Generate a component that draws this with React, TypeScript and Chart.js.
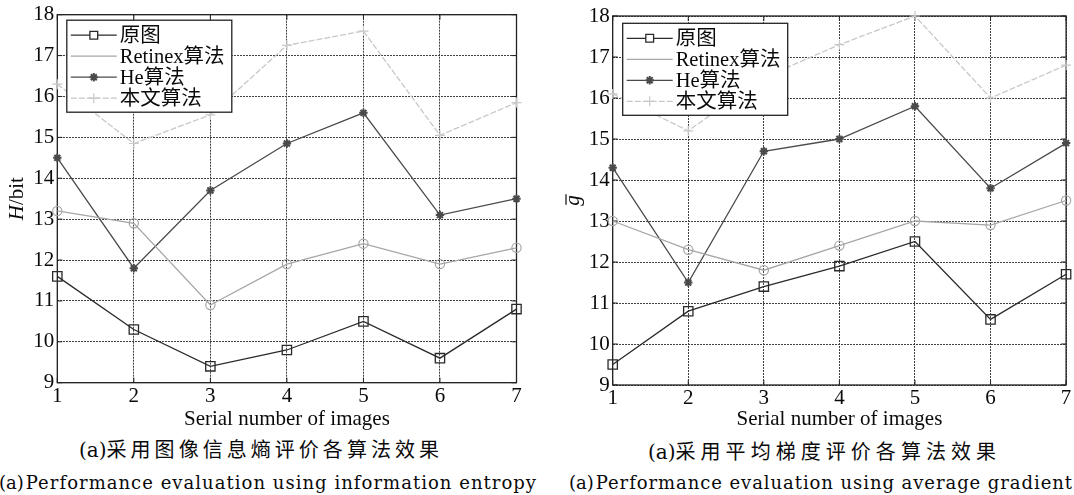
import React, { useEffect, useLayoutEffect, useRef } from "react";
import { Chart, registerables } from "chart.js";

Chart.register(...registerables);

// ---------- data ----------
const IMAGE_NUMBERS = ["1", "2", "3", "4", "5", "6", "7"];
const SERIES_NAMES = ["原图", "Retinex算法", "He算法", "本文算法"];
const Y_MIN = 9;
const Y_MAX = 18;
const Y_STEP = 1;

const ENTROPY_ORIGINAL = [11.6, 10.3, 9.4, 9.8, 10.5, 9.6, 10.8];
const ENTROPY_RETINEX = [13.2, 12.9, 10.9, 11.9, 12.4, 11.9, 12.3];
const ENTROPY_HE = [14.5, 11.8, 13.7, 14.85, 15.6, 13.1, 13.5];
const ENTROPY_OURS = [16.3, 14.85, 15.55, 17.25, 17.6, 15.05, 15.85];

const GRADIENT_ORIGINAL = [9.5, 10.8, 11.4, 11.9, 12.5, 10.6, 11.7];
const GRADIENT_RETINEX = [13.0, 12.3, 11.8, 12.4, 13.0, 12.9, 13.5];
const GRADIENT_HE = [14.3, 11.5, 14.7, 15.0, 15.8, 13.8, 14.9];
const GRADIENT_OURS = [16.1, 15.2, 16.5, 17.3, 18.0, 16.0, 16.8];

const X_TITLE = "Serial number of images";
const CAPTION_PREFIX = "(a)";
const CAPTION_CN_LEFT = "采用图像信息熵评价各算法效果";
const CAPTION_EN_LEFT = "Performance evaluation using information entropy";
const CAPTION_CN_RIGHT = "采用平均梯度评价各算法效果";
const CAPTION_EN_RIGHT = "Performance evaluation using average gradient";

// ---------- styles ----------
const SERIF = '"Liberation Serif", "Times New Roman", "Noto Sans CJK SC", serif';
const TEXT = "#0a0a0a";
const GRID = "#404040";
const AXIS_FONT = 21;

const SERIES_STYLES = [
  { color: "#2a2a2a", point: "rect", radius: 6.6, width: 1.3, dash: [] as number[], pw: 1.3, legendMarker: true },
  { color: "#a6a6a6", point: "circle", radius: 4.6, width: 1.3, dash: [] as number[], pw: 1.2, legendMarker: false },
  { color: "#4a4a4a", point: "star", radius: 4.2, width: 1.3, dash: [] as number[], pw: 2, legendMarker: true },
  { color: "#c8c8c8", point: "cross", radius: 5, width: 1.3, dash: [6, 2], pw: 1.2, legendMarker: true },
];

function drawMarker(ctx: CanvasRenderingContext2D, kind: string, x: number, y: number, r: number, color: string, w: number) {
  ctx.save();
  ctx.setLineDash([]);
  ctx.strokeStyle = color;
  ctx.lineWidth = w;
  ctx.beginPath();
  if (kind === "rect") {
    const s = r * Math.SQRT1_2;
    ctx.rect(x - s, y - s, 2 * s, 2 * s);
    ctx.fillStyle = "#fff";
    ctx.fill();
  } else if (kind === "circle") {
    ctx.arc(x, y, r, 0, Math.PI * 2);
  } else if (kind === "star") {
    for (let k = 0; k < 4; k++) {
      const a = (k * Math.PI) / 4;
      ctx.moveTo(x - Math.cos(a) * r, y - Math.sin(a) * r);
      ctx.lineTo(x + Math.cos(a) * r, y + Math.sin(a) * r);
    }
  } else if (kind === "cross") {
    ctx.moveTo(x - r, y);
    ctx.lineTo(x + r, y);
    ctx.moveTo(x, y - r);
    ctx.lineTo(x, y + r);
  }
  ctx.stroke();
  ctx.restore();
}

type PanelProps = {
  left: number;
  width: number;
  height: number;
  padTop: number;
  padRight: number;
  yAxisW: number;
  xAxisH: number;
  series: number[][];
  yTitle: "entropy" | "gradient";
  yTitleX: number;
  legendDx: number;
  legendDy: number;
};

function Panel(p: PanelProps) {
  const ref = useRef<HTMLCanvasElement>(null);
  useEffect(() => {
    const canvas = ref.current!;
    const framePlugin = {
      id: "frame",
      beforeDatasetsDraw(chart: any) {
        const { ctx, chartArea: a, scales } = chart;
        ctx.save();
        ctx.strokeStyle = "#222";
        ctx.lineWidth = 1.3;
        ctx.setLineDash([]);
        ctx.strokeRect(a.left, a.top, a.right - a.left, a.bottom - a.top);
        ctx.lineWidth = 1;
        ctx.beginPath();
        scales.y.ticks.forEach((t: any) => {
          const y = scales.y.getPixelForValue(t.value);
          ctx.moveTo(a.left, y);
          ctx.lineTo(a.left + 5, y);
          ctx.moveTo(a.right, y);
          ctx.lineTo(a.right - 5, y);
        });
        scales.x.ticks.forEach((_t: any, i: number) => {
          const x = scales.x.getPixelForTick(i);
          ctx.moveTo(x, a.bottom);
          ctx.lineTo(x, a.bottom - 5);
          ctx.moveTo(x, a.top);
          ctx.lineTo(x, a.top + 5);
        });
        ctx.stroke();
        ctx.restore();
      },
      afterDraw(chart: any) {
        const { ctx, chartArea: a } = chart;
        // legend
        const bx = a.left + p.legendDx;
        const by = a.top + p.legendDy;
        const bw = 165;
        const bh = 92;
        ctx.save();
        ctx.fillStyle = "#fff";
        ctx.fillRect(bx, by, bw, bh);
        ctx.strokeStyle = "#222";
        ctx.lineWidth = 1.3;
        ctx.strokeRect(bx, by, bw, bh);
        chart.data.datasets.forEach((ds: any, i: number) => {
          const st = SERIES_STYLES[i];
          const y = by + 15 + i * 21;
          ctx.strokeStyle = st.color;
          ctx.lineWidth = st.width;
          ctx.setLineDash(st.dash);
          ctx.beginPath();
          ctx.moveTo(bx + 4, y);
          ctx.lineTo(bx + 50, y);
          ctx.stroke();
          if (st.legendMarker) drawMarker(ctx, st.point, bx + 27, y, st.point === "rect" ? 5.5 : st.radius, st.color, st.pw);
          ctx.setLineDash([]);
          ctx.fillStyle = TEXT;
          ctx.font = `20.5px ${SERIF}`;
          ctx.textBaseline = "middle";
          ctx.textAlign = "left";
          ctx.fillText(ds.label, bx + 53, y + 1);
        });
        ctx.restore();

        // y title
        const cy = (a.top + a.bottom) / 2;
        ctx.save();
        ctx.translate(p.yTitleX, cy);
        ctx.rotate(-Math.PI / 2);
        ctx.fillStyle = TEXT;
        ctx.textBaseline = "middle";
        ctx.textAlign = "left";
        if (p.yTitle === "entropy") {
          ctx.font = `italic ${AXIS_FONT}px ${SERIF}`;
          const w1 = ctx.measureText("H").width;
          ctx.font = `${AXIS_FONT}px ${SERIF}`;
          const w2 = ctx.measureText("/bit").width;
          const x0 = -(w1 + w2) / 2;
          ctx.font = `italic ${AXIS_FONT}px ${SERIF}`;
          ctx.fillText("H", x0, 0);
          ctx.font = `${AXIS_FONT}px ${SERIF}`;
          ctx.fillText("/bit", x0 + w1, 0);
        } else {
          ctx.font = `italic ${AXIS_FONT}px ${SERIF}`;
          const w = ctx.measureText("g").width;
          ctx.fillText("g", -w / 2, 0);
          ctx.strokeStyle = TEXT;
          ctx.lineWidth = 1.2;
          ctx.beginPath();
          ctx.moveTo(-w / 2 + 1, -7);
          ctx.lineTo(w / 2 + 1, -7);
          ctx.stroke();
        }
        ctx.restore();
      },
    };

    const chart = new Chart(canvas, {
      type: "line",
      data: {
        labels: IMAGE_NUMBERS,
        datasets: p.series.map((vals, i) => {
          const st = SERIES_STYLES[i];
          return {
            label: SERIES_NAMES[i],
            data: vals,
            borderColor: st.color,
            borderWidth: st.width,
            borderDash: st.dash,
            pointStyle: st.point as any,
            pointRadius: st.radius,
            pointBorderColor: st.color,
            pointBackgroundColor: "rgba(255,255,255,0)",
            pointBorderWidth: st.pw,
            tension: 0,
            clip: false as any,
            fill: false,
          };
        }),
      },
      options: {
        animation: false,
        responsive: false,
        maintainAspectRatio: false,
        events: [],
        layout: { padding: { top: p.padTop, right: p.padRight, left: 0, bottom: 0 } },
        plugins: { legend: { display: false }, tooltip: { enabled: false } },
        scales: {
          x: {
            type: "category",
            offset: false,
            grid: { color: GRID, lineWidth: 1, drawTicks: false, offset: false },
            border: { display: false, dash: [2, 1] },
            ticks: { color: TEXT, font: { family: SERIF, size: AXIS_FONT }, padding: 1, maxRotation: 0, autoSkip: false },
            title: {
              display: true,
              text: X_TITLE,
              color: TEXT,
              font: { family: SERIF, size: AXIS_FONT },
              padding: { top: 0, bottom: 0 },
            },
            afterFit: (s: any) => {
              s.height = p.xAxisH;
              s.paddingLeft = 0;
              s.paddingRight = 0;
            },
          },
          y: {
            min: Y_MIN,
            max: Y_MAX,
            grid: { color: GRID, lineWidth: 1, drawTicks: false },
            border: { display: false, dash: [2, 1] },
            ticks: { stepSize: Y_STEP, color: TEXT, font: { family: SERIF, size: AXIS_FONT }, padding: 3 },
            afterFit: (s: any) => {
              s.width = p.yAxisW;
              s.paddingTop = 0;
              s.paddingBottom = 0;
            },
          },
        },
      } as any,
      plugins: [framePlugin],
    });
    return () => chart.destroy();
  }, []);
  return (
    <canvas
      ref={ref}
      width={p.width}
      height={p.height}
      style={{ position: "absolute", left: p.left, top: 0, width: p.width, height: p.height }}
    />
  );
}

// Caption: "(a)" prefix set tight, the rest spread so the whole line spans `width`.
function Caption(props: { prefix: string; text: string; left: number; width: number; cy: number; size: number; gap: number }) {
  const pre = useRef<HTMLSpanElement>(null);
  const rest = useRef<HTMLSpanElement>(null);
  useLayoutEffect(() => {
    const r = rest.current!;
    r.style.letterSpacing = "0px";
    const wPre = pre.current!.getBoundingClientRect().width;
    const wRest = r.getBoundingClientRect().width;
    const n = Array.from(props.text).length;
    const ls = (props.width - wPre - props.gap - wRest) / (n - 1);
    r.style.letterSpacing = `${ls}px`;
  }, []);
  return (
    <div
      style={{
        position: "absolute",
        left: props.left,
        top: props.cy - props.size * 0.6,
        fontSize: props.size,
        lineHeight: `${props.size * 1.2}px`,
        whiteSpace: "nowrap",
        fontFamily: '"DejaVu Serif", "Noto Sans CJK SC", serif',
        color: TEXT,
      }}
    >
      <span ref={pre}>{props.prefix}</span>
      <span ref={rest} style={{ marginLeft: props.gap }}>{props.text}</span>
    </div>
  );
}

export default function App() {
  return (
    <div style={{ position: "absolute", left: 0, top: 0, width: 1074, height: 495, background: "#fff", overflow: "hidden" }}>
      <Panel
        left={0}
        width={540}
        height={432}
        padTop={14.7}
        padRight={23.5}
        yAxisW={57.3}
        xAxisH={49.3}
        series={[ENTROPY_ORIGINAL, ENTROPY_RETINEX, ENTROPY_HE, ENTROPY_OURS]}
        yTitle="entropy"
        yTitleX={17.5}
        legendDx={9.5}
        legendDy={5.5}
      />
      <Panel
        left={540}
        width={534}
        height={432}
        padTop={16}
        padRight={0.5}
        yAxisW={72.7}
        xAxisH={47}
        series={[GRADIENT_ORIGINAL, GRADIENT_RETINEX, GRADIENT_HE, GRADIENT_OURS]}
        yTitle="gradient"
        yTitleX={33}
        legendDx={10}
        legendDy={7.3}
      />
      <Caption prefix={CAPTION_PREFIX} text={CAPTION_CN_LEFT} left={79} width={360} cy={450} size={20} gap={0} />
      <Caption prefix={CAPTION_PREFIX} text={CAPTION_EN_LEFT} left={-1} width={537} cy={483} size={18} gap={2} />
      <Caption prefix={CAPTION_PREFIX} text={CAPTION_CN_RIGHT} left={648} width={348} cy={452} size={20} gap={0} />
      <Caption prefix={CAPTION_PREFIX} text={CAPTION_EN_RIGHT} left={569} width={503} cy={483} size={18} gap={2} />
    </div>
  );
}
